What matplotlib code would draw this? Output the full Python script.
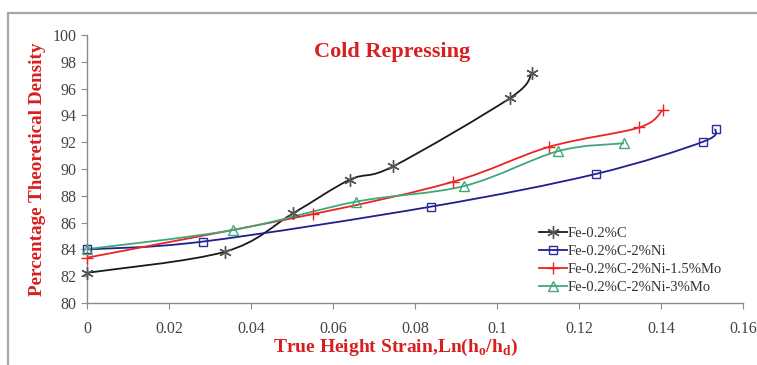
import numpy as np
import matplotlib
matplotlib.use("Agg")
import matplotlib.pyplot as plt
from matplotlib.path import Path
from matplotlib.patches import PathPatch, Rectangle

# true height strain vs. percentage theoretical density, cold repressing
strain_c = [0.0, 0.0337, 0.0503, 0.0641, 0.0747, 0.1032, 0.1085]
dens_c = [82.25, 83.83, 86.7, 89.2, 90.2, 95.3, 97.14]

strain_ni = [0.0, 0.0282, 0.0839, 0.1241, 0.1503, 0.1533]
dens_ni = [84.0, 84.58, 87.19, 89.63, 92.04, 92.99]

strain_mo15 = [0.0, 0.0552, 0.0893, 0.1128, 0.1347, 0.1404]
dens_mo15 = [83.38, 86.64, 89.05, 91.66, 93.1, 94.4]

strain_mo3 = [0.0, 0.0357, 0.0656, 0.0920, 0.1150, 0.1310]
dens_mo3 = [84.02, 85.45, 87.56, 88.73, 91.34, 91.92]

labels = ["Fe-0.2%C", "Fe-0.2%C-2%Ni", "Fe-0.2%C-2%Ni-1.5%Mo", "Fe-0.2%C-2%Ni-3%Mo"]
colors = ["#1a1a1a", "#1f1f8f", "#ee2222", "#3fa878"]
mcolors = ["#555555", "#2b2ba0", "#ee2222", "#3fa878"]
markers = [(6, 2, 0), "s", "+", "^"]
msizes = [9, 6, 9, 7]

RED = "#d81f1f"
SERIF = ["Liberation Serif", "DejaVu Serif"]
plt.rcParams["mathtext.fontset"] = "custom"
plt.rcParams["mathtext.rm"] = "Liberation Serif:bold"


def smooth_path(xs, ys):
    # spreadsheet-style smoothed line: cubic Bezier through every point
    p = np.column_stack([xs, ys]).astype(float)
    n = len(p)
    verts = [p[0]]
    codes = [Path.MOVETO]
    for i in range(n - 1):
        p0 = p[i - 1] if i > 0 else p[i]
        p3 = p[i + 2] if i + 2 < n else p[i + 1]
        c1 = p[i] + (p[i + 1] - p0) / 6.0
        c2 = p[i + 1] - (p3 - p[i]) / 6.0
        verts += [c1, c2, p[i + 1]]
        codes += [Path.CURVE4] * 3
    return Path(verts, codes)


fig = plt.figure(figsize=(7.57, 3.65), dpi=100)
fig.patches.append(Rectangle((0.011, -0.05), 1.1, 1.014, transform=fig.transFigure,
                             fill=False, edgecolor="#a6a6a6", lw=1.6))
ax = fig.add_axes([0.1149, 0.1699, 0.8666, 0.7342])

series = [(strain_c, dens_c), (strain_ni, dens_ni), (strain_mo15, dens_mo15), (strain_mo3, dens_mo3)]
for (xs, ys), lab, c, mc, m, ms in zip(series, labels, colors, mcolors, markers, msizes):
    ax.add_patch(PathPatch(smooth_path(xs, ys), fill=False, edgecolor=c, lw=1.3, zorder=2))
    ax.plot(xs, ys, ls="none", marker=m, ms=ms, mfc="none", mec=mc, mew=1.0,
            zorder=3, clip_on=False)
    ax.plot([], [], color=c, lw=1.3, marker=m, ms=ms, mfc="none", mec=mc, mew=1.0, label=lab)

ax.set_xlim(0, 0.16)
ax.set_ylim(80, 100)
ax.set_xticks(np.arange(0, 0.161, 0.02))
ax.set_xticklabels(["0", "0.02", "0.04", "0.06", "0.08", "0.1", "0.12", "0.14", "0.16"])
ax.set_yticks(np.arange(80, 101, 2))

for s in ["top", "right"]:
    ax.spines[s].set_visible(False)
for s in ["left", "bottom"]:
    ax.spines[s].set_color("#8a8a8a")
    ax.spines[s].set_linewidth(1.0)
ax.tick_params(axis="both", direction="out", length=4, color="#8a8a8a",
               labelsize=11.5, labelcolor="#444444")
ax.tick_params(axis="x", pad=9)
for t in ax.get_xticklabels() + ax.get_yticklabels():
    t.set_family(SERIF)

ax.text(0.465, 0.935, "Cold Repressing", transform=ax.transAxes, ha="center", va="center",
        family=SERIF, fontsize=16, fontweight="bold", color=RED)
ax.set_xlabel(r"True Height Strain,Ln(h$_\mathregular{o}$/h$_\mathregular{d}$)", family=SERIF,
              fontsize=14, fontweight="bold", color=RED, labelpad=0)
ax.xaxis.set_label_coords(0.471, -0.125)
ax.set_ylabel("Percentage Theoretical Density", family=SERIF, fontsize=13.8,
              fontweight="bold", color=RED, labelpad=5)

leg = ax.legend(loc="upper left", bbox_to_anchor=(0.68, 0.305), frameon=False,
                prop={"family": SERIF, "size": 10.5}, handlelength=1.9,
                handletextpad=0.1, labelspacing=0.32, borderaxespad=0)
for t in leg.get_texts():
    t.set_color("#333333")

fig.savefig("out.png", dpi=100)
